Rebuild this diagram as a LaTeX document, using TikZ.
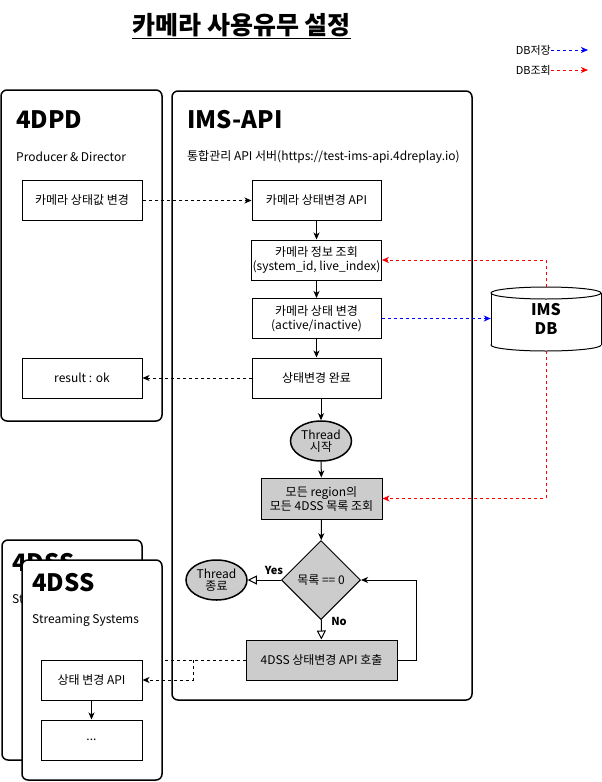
\documentclass[tikz,border=0pt]{standalone}
\usepackage{fontspec}
\setmainfont{Noto Sans CJK KR}
\usetikzlibrary{arrows.meta,shapes.geometric,positioning}

\tikzset{
	lane/.style={draw,line width=1.5pt,rounded corners=6pt,fill=white},
	lanetitle/.style={anchor=west,inner sep=0pt,font=\fontsize{24}{28}\selectfont\bfseries},
	lanesub/.style={anchor=west,inner sep=0pt},
	stepbox/.style={draw,line width=1pt,fill=white,minimum width=129pt,minimum height=40pt,align=center,inner sep=1pt},
	graybox/.style={stepbox,fill=black!20},
	thread/.style={ellipse,draw,line width=1.5pt,fill=black!20,minimum width=61pt,minimum height=40pt,inner sep=0pt,align=center,font=\fontsize{12}{12}\selectfont},
	choice/.style={inner sep=0pt,font=\fontsize{11}{13}\selectfont\bfseries},
	flow/.style={line width=1pt,-{Stealth[length=7pt,width=6pt,inset=2pt]}},
	dashline/.style={line width=1pt,dash pattern=on 3pt off 3pt},
	msg/.style={flow,dash pattern=on 3pt off 3pt},
	dbsave/.style={msg,blue},
	dbread/.style={msg,red},
	decide/.style={line width=1pt,-{Triangle[open,length=9pt,width=9pt,fill=white]}},
	dbshape/.style={line width=1pt,fill=white}
}

\begin{document}
\begin{tikzpicture}[x=1pt,y=-1pt,font=\fontsize{12}{14}\selectfont]
	\useasboundingbox[fill=white] (0,0) rectangle (602,782);

	\node (title) at (241.5,26) {\fontsize{25}{28}\selectfont\bfseries\underline{카메라 사용유무 설정}};
	\node[anchor=east,inner sep=0pt,font=\fontsize{11}{13}\selectfont] (save) at (551,50) {DB저장};
	\node[anchor=east,inner sep=0pt,font=\fontsize{11}{13}\selectfont] (read) at (551,70) {DB조회};
	\coordinate (saveend) at (588,50);
	\coordinate (readend) at (588,70);
	\draw[dbsave] (save.east) -- (saveend);
	\draw[dbread] (read.east) -- (readend);

	% 4DPD
	\draw[lane] (1,90) rectangle (162,421);
	\node[lanetitle] (pd) at (16,120) {4DPD};
	\node[lanesub] (pdsub) at (16,157) {Producer \& Director};
	\node[stepbox,minimum width=120pt] (camset) at (82,200.5) {카메라 상태값 변경};
	\node[stepbox,minimum width=120pt] (result) at (82,378) {result : ok};

	% IMS-API
	\draw[lane] (172,91) rectangle (472,700);
	\node[lanetitle] (ims) at (187,120) {IMS-API};
	\node[lanesub] (imssub) at (187,157) {통합관리 API 서버(https://test-ims-api.4dreplay.io)};
	\node[stepbox] (api) at (316.5,200.5) {카메라 상태변경 API};
	\node[stepbox] (info) at (316.5,260) {카메라 정보 조회\\(system\_id, live\_index)};
	\node[stepbox] (change) at (316.5,318.5) {카메라 상태 변경\\(active/inactive)};
	\node[stepbox] (done) at (316.5,378) {상태변경 완료};
	\node[thread] (tstart) at (321,441) {Thread\\시작};
	\node[graybox,minimum width=121pt,minimum height=41pt] (list) at (321.5,498.5) {모든 region의\\모든 4DSS 목록 조회};
	\node[diamond,draw,line width=1pt,fill=black!20,minimum width=79pt,minimum height=79pt,inner sep=0pt] (empty) at (321,580) {목록 == 0};
	\node[thread] (tend) at (216.5,580) {Thread\\종료};
	\node[graybox,minimum width=151pt] (call) at (321.5,660) {4DSS 상태변경 API 호출};
	\node[choice] (yes) at (274,570) {Yes};
	\node[choice] (no) at (339,621) {No};

	% IMS DB
	\filldraw[dbshape] (546,345) ellipse [x radius=55, y radius=6];
	\fill[white] (491,293) rectangle (601,345);
	\draw[dbshape] (491,293) -- (491,345) (601,293) -- (601,345);
	\filldraw[dbshape] (546,293) ellipse [x radius=55, y radius=6];
	\node[minimum width=110pt,minimum height=64pt,inner sep=0pt,align=center,font=\fontsize{16}{19}\selectfont\bfseries] (db) at (546,319) {IMS\\DB};

	% 4DSS
	\draw[lane] (2,540) rectangle (142,760);
	\node[lanetitle] (dssback) at (12,563) {4DSS};
	\node[lanesub] (dssbacksub) at (12,600) {Streaming Systems};
	\draw[lane] (22,560) rectangle (162,780);
	\node[lanetitle] (dss) at (32,583) {4DSS};
	\node[lanesub] (dsssub) at (32,620) {Streaming Systems};
	\node[stepbox,minimum width=101pt] (dssapi) at (91.5,680) {상태 변경 API};
	\node[stepbox,minimum width=101pt] (dssmore) at (91.5,740) {...};

	\draw[msg] (camset) -- (api);
	\draw[flow] (api) -- (info);
	\draw[flow] (info) -- (change);
	\draw[flow] (change) -- (done);
	\draw[msg] (done) -- (result);
	\draw[flow] (tstart |- done.south) -- (tstart);
	\draw[flow] (tstart) -- (list);
	\draw[flow] (list) -- (empty);
	\draw[decide] (empty) -- (tend);
	\draw[decide] (empty) -- (call);
	\draw[flow] (call.east) -- ++(19,0) |- (empty.east);
	\draw[dbread] (db.north) |- (info.east);
	\draw[dbread] (db.south) |- (list.east);
	\draw[dbsave] (change.east) -- (change.east -| db.west);

	\coordinate (dssedge) at (162,660);
	\coordinate (bend) at (193,660);
	\draw[dashline] (call.west) -- (dssedge);
	\draw[msg] (bend) |- (dssapi.east);
	\draw[flow] (dssapi) -- (dssmore);
\end{tikzpicture}
\end{document}
